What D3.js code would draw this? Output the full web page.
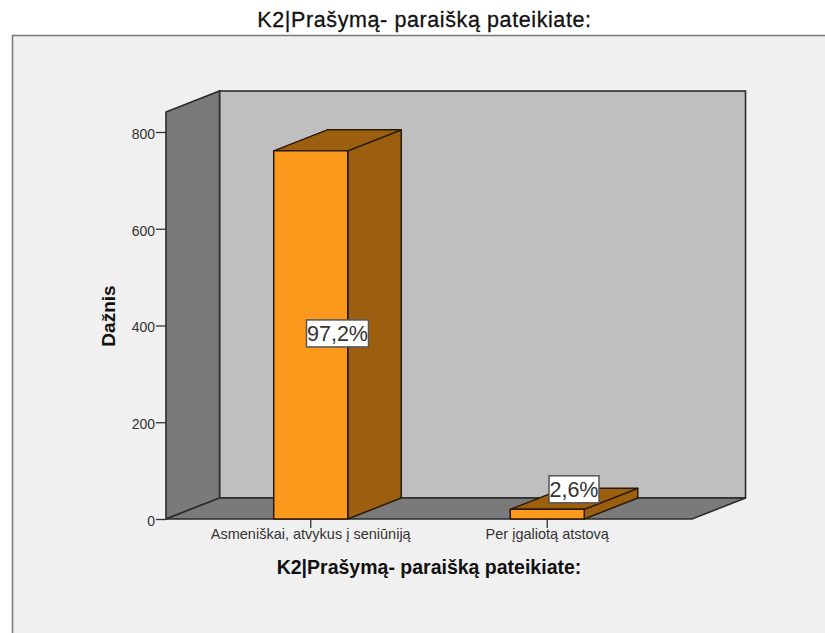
<!DOCTYPE html>
<html>
<head>
<meta charset="utf-8">
<script src="https://cdn.jsdelivr.net/npm/d3@7/dist/d3.min.js"></script>
<style>
  html, body { margin: 0; padding: 0; background: #fff; }
  svg { display: block; }
  text { font-family: "Liberation Sans", Arial, sans-serif; }
  .axis path { display: none; }
  .axis line { stroke: #333; stroke-width: 1.3; }
  .axis text { fill: #333; }
  .axis.y text { font-size: 14px; }
  .axis.x text { font-size: 14.5px; }
</style>
</head>
<body>
<script>
const categories = ["Asmeniškai, atvykus į seniūniją", "Per įgaliotą atstovą"];
const frequencies = [761, 20];
const percentLabels = ["97,2%", "2,6%"];
const yTicks = [0, 200, 400, 600, 800];
const titleText = "K2|Prašymą- paraišką pateikiate:";
const yAxisTitle = "Dažnis";

const width = 825, height = 633;

// front plane of the 3D box, depth goes up and to the right
const plot = { left: 166, right: 692, bottom: 519 };
const depth = { dx: 53.5, dy: -21 };
const wallTop = 112;

const svg = d3.select("body").append("svg")
    .attr("width", width)
    .attr("height", height);

const x = d3.scaleBand()
    .domain(categories)
    .range([plot.left, plot.right])
    .paddingInner(0.687)
    .paddingOuter(0.4555);

const y = d3.scaleLinear()
    .domain([0, 800])
    .range([plot.bottom, 132]);

const poly = pts => pts.map(p => p.join(",")).join(" ");
const edge = "#2b2b2b";

// page panel
svg.append("rect")
    .attr("x", 12.5).attr("y", 35.5)
    .attr("width", width + 20).attr("height", height + 20)
    .attr("fill", "#f0f0f0")
    .attr("stroke", "#7d7d7d")
    .attr("stroke-width", 1.6);

svg.append("text")
    .attr("x", 424.5).attr("y", 27)
    .attr("text-anchor", "middle")
    .attr("font-size", 21.5)
    .attr("letter-spacing", 0.6)
    .attr("fill", "#111")
    .attr("stroke", "#111")
    .attr("stroke-width", 0.3)
    .text(titleText);

// back wall
svg.append("rect")
    .attr("x", plot.left + depth.dx).attr("y", wallTop + depth.dy)
    .attr("width", plot.right - plot.left)
    .attr("height", plot.bottom - wallTop)
    .attr("fill", "#bfbfbf")
    .attr("stroke", edge)
    .attr("stroke-width", 1.6);

// side wall
svg.append("polygon")
    .attr("points", poly([
      [plot.left, wallTop],
      [plot.left + depth.dx, wallTop + depth.dy],
      [plot.left + depth.dx, plot.bottom + depth.dy],
      [plot.left, plot.bottom]
    ]))
    .attr("fill", "#7a7a7a")
    .attr("stroke", edge)
    .attr("stroke-width", 1.6);

// floor
svg.append("polygon")
    .attr("points", poly([
      [plot.left, plot.bottom],
      [plot.left + depth.dx, plot.bottom + depth.dy],
      [plot.right + depth.dx, plot.bottom + depth.dy],
      [plot.right, plot.bottom]
    ]))
    .attr("fill", "#7a7a7a")
    .attr("stroke", edge)
    .attr("stroke-width", 1.6);

// axes
svg.append("g")
    .attr("class", "axis y")
    .attr("transform", `translate(${plot.left},0)`)
    .call(d3.axisLeft(y).tickValues(yTicks).tickSize(10).tickPadding(1))
    .selectAll("text")
    .attr("dy", "0.46em");

svg.append("g")
    .attr("class", "axis x")
    .attr("transform", `translate(0,${plot.bottom})`)
    .call(d3.axisBottom(x).tickSize(9).tickPadding(1));

// bars
const bars = svg.selectAll("g.bar")
    .data(categories.map((c, i) => ({ name: c, value: frequencies[i], label: percentLabels[i] })))
    .enter()
    .append("g")
    .attr("class", "bar");

bars.each(function (d) {
  const g = d3.select(this);
  const x0 = x(d.name), x1 = x0 + x.bandwidth();
  const top = y(d.value);

  g.append("polygon")
      .attr("points", poly([[x1, top], [x1 + depth.dx, top + depth.dy],
        [x1 + depth.dx, plot.bottom + depth.dy], [x1, plot.bottom]]))
      .attr("fill", "#9c5f10");
  g.append("polygon")
      .attr("points", poly([[x0, top], [x0 + depth.dx, top + depth.dy],
        [x1 + depth.dx, top + depth.dy], [x1, top]]))
      .attr("fill", "#9c5f10");
  g.append("rect")
      .attr("x", x0).attr("y", top)
      .attr("width", x.bandwidth())
      .attr("height", plot.bottom - top)
      .attr("fill", "#fb991d");
  g.selectAll("polygon, rect")
      .attr("stroke", "#2a1a08")
      .attr("stroke-width", 1.5)
      .attr("stroke-linejoin", "round");
});

// value labels sit on top of everything
bars.each(function (d) {
  const g = d3.select(this);
  const cx = x(d.name) + x.bandwidth() / 2 + depth.dx / 2;
  const top = y(d.value);
  // short bars get their label lifted up to the back edge
  const cy = plot.bottom - top < 60 ? top + depth.dy + 1 : (top + plot.bottom) / 2 - 1.5;

  const t = g.append("text")
      .attr("x", cx).attr("y", cy + 8)
      .attr("text-anchor", "middle")
      .attr("font-size", 21.5)
      .attr("fill", "#333")
      .text(d.label);
  const w = t.node().getComputedTextLength();
  g.insert("rect", () => t.node())
      .attr("x", cx - w / 2 - 0.5).attr("y", cy - 13.5)
      .attr("width", w + 1).attr("height", 27)
      .attr("fill", "#fff")
      .attr("stroke", "#555")
      .attr("stroke-width", 1.5);
});

// axis titles
svg.append("text")
    .attr("x", 429).attr("y", 574)
    .attr("text-anchor", "middle")
    .attr("font-size", 19.5)
    .attr("font-weight", "bold")
    .attr("fill", "#111")
    .text(titleText);

svg.append("text")
    .attr("transform", "translate(115,316) rotate(-90)")
    .attr("text-anchor", "middle")
    .attr("font-size", 19)
    .attr("font-weight", "bold")
    .attr("fill", "#111")
    .text(yAxisTitle);
</script>
</body>
</html>
